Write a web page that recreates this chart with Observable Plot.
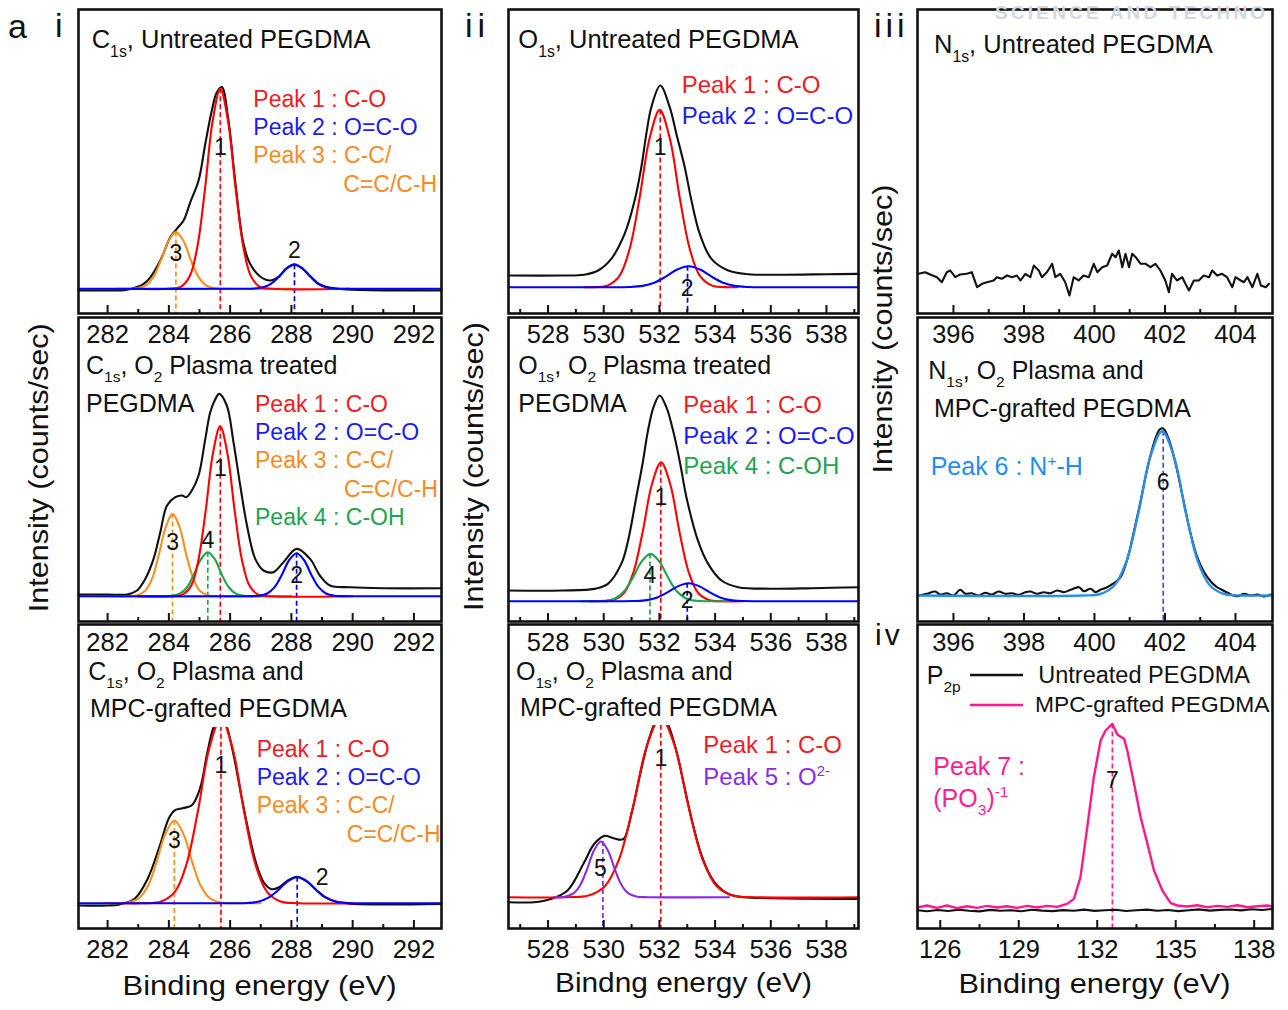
<!DOCTYPE html>
<html><head><meta charset="utf-8">
<script src="https://cdn.jsdelivr.net/npm/d3@7"></script>
<script src="https://cdn.jsdelivr.net/npm/@observablehq/plot@0.6"></script>
<style>
body{margin:0;background:#fff;}
#wrap{position:relative;width:1288px;height:1010px;overflow:hidden;background:#fff;}
</style></head><body><div id="wrap"></div>
<script>
// ================= DATA (binding energy eV, relative intensity) =================
// ---- column i : C1s ----
const c1sRange = [281.05, 292.9];
const c1sMajorTicks = [282, 284, 286, 288, 290, 292];
const c1sMinorTicks = [283, 285, 287, 289, 291];

const c1sUntreatedEnvelope = [[281.05,-1.7],[282,-1.7],[282.6,-1.2],[282.96,1.7],[283.2,5.5],[283.4,11.7],[283.72,28.3],[284.05,51.7],[284.26,60],[284.48,68.3],[284.7,86.7],[284.97,108.3],[285.19,145],[285.4,178],[285.56,196],[285.73,201.7],[285.93,172],[286.18,104],[286.43,46],[286.65,25],[286.98,12.3],[287.3,8.3],[287.6,12.5],[287.84,20.5],[288.1,24.5],[288.36,20.5],[288.62,12.5],[288.87,5.5],[289.13,2],[289.5,0],[290.2,-1.2],[292.9,-1.7]];
const c1sUntreatedPeak1 = [[282.9,0],[283.98,0],[284.38,1.8],[284.68,12.5],[284.93,42],[285.18,100],[285.43,168],[285.68,200],[285.93,168],[286.18,100],[286.43,42],[286.68,12.5],[286.98,1.8],[287.38,0],[289.9,0]];
const c1sUntreatedPeak2 = [[281.05,0],[286.35,0],[286.76,0.2],[287.07,1.5],[287.33,5],[287.59,12],[287.84,20.2],[288.1,24],[288.36,20.2],[288.62,12],[288.87,5],[289.13,1.5],[289.44,0.2],[289.85,0],[292.9,0]];
const c1sUntreatedPeak3 = [[282.3,0],[282.56,0],[282.96,0.5],[283.25,3.5],[283.5,11.9],[283.74,28.4],[283.99,47.7],[284.23,56.7],[284.48,47.7],[284.72,28.4],[284.97,11.9],[285.21,3.5],[285.5,0.5],[285.9,0],[288,0]];
const c1sUntreatedCentres = [285.68, 288.1, 284.23];
const c1sUntreatedHeights = [200, 24, 56.7];

const c1sPlasmaEnvelope = [[281.05,1.7],[282,1.7],[282.64,1.7],[282.96,5.7],[283.23,17.3],[283.5,37.3],[283.72,64],[283.94,90.7],[284.21,99],[284.43,100.7],[284.57,99],[284.75,105.7],[284.97,120.7],[285.19,157.3],[285.35,184],[285.5,196],[285.64,202.3],[285.89,190.7],[286.11,154],[286.33,110.7],[286.55,70.7],[286.82,37.3],[287.09,25.7],[287.41,24],[287.74,34],[288.17,47.3],[288.61,37.3],[288.93,20.7],[289.26,10.7],[289.91,9],[291,8],[292.9,8]];
const c1sPlasmaPeak1 = [[283,0],[284.06,0],[284.44,1.6],[284.73,10.6],[284.96,35.7],[285.2,85],[285.44,143],[285.675,170],[285.91,143],[286.15,85],[286.39,35.7],[286.63,10.6],[286.91,1.6],[287.29,0],[290,0]];
const c1sPlasmaPeak2 = [[281.05,0],[286.54,0],[286.92,0.4],[287.21,2.7],[287.45,9],[287.69,21.5],[287.93,36.2],[288.17,43],[288.41,36.2],[288.65,21.5],[288.89,9],[289.13,2.7],[289.42,0.4],[289.8,0],[292.9,0]];
const c1sPlasmaPeak3 = [[282.2,0],[282.59,0],[282.95,0.8],[283.22,5.1],[283.45,17.3],[283.67,41.2],[283.9,69.2],[284.12,82.3],[284.35,69.2],[284.57,41.2],[284.8,17.3],[285.02,5.1],[285.29,0.8],[285.65,0],[287.5,0]];
const c1sPlasmaPeak4 = [[283,0],[283.74,0],[284.1,0.4],[284.37,2.75],[284.6,9.2],[284.82,22],[285.05,37],[285.27,44],[285.5,37],[285.72,22],[285.95,9.2],[286.17,2.75],[286.44,0.4],[286.8,0],[288,0]];
const c1sPlasmaCentres = [285.68, 288.17, 284.12, 285.27];
const c1sPlasmaHeights = [170, 43, 82.3, 44];

const c1sGraftEnvelope = [[281.05,-2.3],[282,-2.3],[282.4,-1.2],[282.9,5],[283.3,24],[283.7,57],[284,85],[284.2,93],[284.45,95],[284.75,98],[285.02,115],[285.25,150],[285.45,175],[285.6,183],[285.7,186],[285.85,180],[286.1,150],[286.35,110],[286.6,72],[286.85,40],[287.1,20.7],[287.35,14],[287.6,16],[287.9,23],[288.19,26.5],[288.5,22],[288.8,13.5],[289.1,6],[289.45,1.6],[289.9,-0.5],[292.9,-0.7]];
const c1sGraftPeak1 = [[282.5,0],[283.15,0],[283.75,1.7],[284.2,11.6],[284.575,38.9],[284.95,92.5],[285.325,155.6],[285.7,185],[286.075,155.6],[286.45,92.5],[286.825,38.9],[287.2,11.6],[287.65,1.7],[288.25,0],[290,0]];
const c1sGraftPeak2 = [[281.05,0],[286.07,0],[286.57,0.24],[286.94,1.6],[287.25,5.5],[287.57,13],[287.88,21.9],[288.19,26],[288.5,21.9],[288.82,13],[289.13,5.5],[289.44,1.6],[289.82,0.24],[290.32,0],[292.9,0]];
const c1sGraftPeak3 = [[281.9,0],[282.225,0],[282.685,0.8],[283.03,5.2],[283.32,17.4],[283.6,41.4],[283.89,69.6],[284.18,82.7],[284.47,69.6],[284.76,41.4],[285.04,17.4],[285.33,5.2],[285.68,0.8],[286.14,0],[287,0]];
const c1sGraftCentres = [285.7, 288.19, 284.18];
const c1sGraftHeights = [185, 26, 82.7];

// ---- column ii : O1s ----
const o1sRange = [526.58, 539.15];
const o1sMajorTicks = [528, 530, 532, 534, 536, 538];
const o1sMinorTicks = [527, 529, 531, 533, 535, 537, 539];

const o1sUntreatedEnvelope = [[526.58,11.7],[528.5,11.7],[529.3,12.5],[529.8,16.7],[530.27,28.3],[530.75,53.3],[531.11,86.7],[531.35,120],[531.53,153.3],[531.71,180],[532.03,201.7],[532.37,180],[532.61,153.3],[532.91,120],[533.15,86.7],[533.45,53.3],[533.87,28.3],[534.47,16.7],[535.2,13],[536.5,12.5],[538,13],[539.15,13.3]];
const o1sUntreatedPeak1 = [[529.3,0],[529.545,0],[530.125,1.6],[530.56,11.1],[530.92,37.2],[531.285,88.7],[531.65,149.1],[532.01,177.3],[532.37,149.1],[532.735,88.7],[533.1,37.2],[533.46,11.1],[533.895,1.6],[534.475,0],[534.8,0]];
const o1sUntreatedPeak2 = [[526.58,0],[530.245,0],[530.905,0.2],[531.4,1.3],[531.81,4.4],[532.225,10.5],[532.64,17.7],[533.05,21],[533.46,17.7],[533.875,10.5],[534.29,4.4],[534.7,1.3],[535.195,0.2],[535.855,0],[539.15,0]];
const o1sUntreatedCentres = [532.03, 533.01];
const o1sUntreatedHeights = [177.3, 21];

const o1sPlasmaEnvelope = [[526.58,10.7],[528.5,10.7],[529.67,12.3],[530.15,17.3],[530.63,37.3],[530.87,60],[531.17,104],[531.41,140],[531.59,170.7],[531.8,195],[532.01,205.7],[532.25,194],[532.49,170.7],[532.73,140],[532.97,104],[533.39,60],[533.75,37.3],[534.23,20.7],[534.83,14],[536,12.5],[537.5,13],[539.15,14]];
const o1sPlasmaPeak1 = [[529.5,0],[529.816,0],[530.344,1.3],[530.74,8.7],[531.07,29.2],[531.4,69.5],[531.73,116.9],[532.06,139],[532.39,116.9],[532.72,69.5],[533.05,29.2],[533.38,8.7],[533.776,1.3],[534.304,0],[535,0]];
const o1sPlasmaPeak2 = [[526.58,0],[530.5,0],[531.1,0.17],[531.55,1.1],[531.925,3.8],[532.3,9],[532.675,15.1],[533.05,18],[533.425,15.1],[533.8,9],[534.175,3.8],[534.55,1.1],[535,0.17],[535.6,0],[539.15,0]];
const o1sPlasmaPeak4 = [[529.2,0],[529.538,0],[530.042,0.4],[530.42,3],[530.735,9.9],[531.05,23.7],[531.365,39.8],[531.68,47.3],[531.995,39.8],[532.31,23.7],[532.625,9.9],[532.94,3],[533.318,0.4],[533.822,0],[534.5,0]];
const o1sPlasmaCentres = [532.05, 533.0, 531.66];
const o1sPlasmaHeights = [139, 18, 47.3];

const o1sGraftEnvelope = [[526.58,-5],[527.5,-5],[528.1,-1.7],[528.7,6.7],[529.3,35],[529.65,53],[530.03,61.3],[530.35,59],[530.7,58],[531,84],[531.3,122],[531.6,156],[531.85,175],[532.05,181],[532.3,173],[532.6,147],[532.9,110],[533.2,73],[533.5,43],[533.8,23],[534.1,11],[534.5,3],[535,0],[536,-1],[539.15,-1.7]];
const o1sGraftPeak1 = [[526.58,0],[528.65,0],[529.45,1.7],[530.05,11.3],[530.55,37.8],[531.05,90],[531.55,151.4],[532.05,180],[532.55,151.4],[533.05,90],[533.55,37.8],[534.05,11.3],[534.65,1.7],[535.45,0],[539.15,0]];
const o1sGraftPeak5 = [[528.2,0],[528.6,0.5],[528.9,3.5],[529.15,11.7],[529.4,27.9],[529.65,46.8],[529.9,55.7],[530.15,46.8],[530.4,27.9],[530.65,11.7],[530.9,3.5],[531.2,0.5],[531.6,0],[534.5,0]];
const o1sGraftCentres = [532.05, 529.97];
const o1sGraftHeights = [180, 55.7];

// ---- column iii : N1s and P2p ----
const n1sRange = [394.98, 405.05];
const n1sMajorTicks = [396, 398, 400, 402, 404];
const n1sMinorTicks = [397, 399, 401, 403];

const n1sUntreatedSpectrum = [[395.01,41.7],[395.2,43.3],[395.34,41],[395.53,38.3],[395.67,33.3],[395.81,43.3],[395.91,45],[396.05,38.3],[396.19,41],[396.38,41.7],[396.52,43.3],[396.67,28.3],[396.81,31.7],[396.95,33.3],[397.14,35],[397.23,38.3],[397.37,36.7],[397.52,40],[397.66,38.3],[397.8,40],[397.9,35],[398.04,41.7],[398.18,38.3],[398.28,50],[398.42,45],[398.51,38.3],[398.65,43.3],[398.8,51.7],[398.89,38.3],[399.03,41.7],[399.17,33.3],[399.29,20],[399.41,38.3],[399.55,35],[399.69,40],[399.84,38.3],[399.98,51.7],[400.08,43.3],[400.22,48.3],[400.36,50],[400.5,61.7],[400.6,58.3],[400.69,65],[400.79,48.3],[400.88,61.7],[400.98,48.3],[401.07,61.7],[401.17,58.3],[401.31,51.7],[401.45,51.7],[401.59,48.3],[401.73,51.7],[401.87,45],[402.01,35],[402.11,23.3],[402.2,41.7],[402.34,35],[402.49,38.3],[402.58,31.7],[402.68,25],[402.82,35],[402.96,35],[403.1,40],[403.25,38.3],[403.34,45],[403.48,40],[403.62,41.7],[403.76,38.3],[403.91,28.3],[404,38.3],[404.15,35],[404.24,33.3],[404.34,38.3],[404.48,28.3],[404.62,41.7],[404.72,30],[404.86,28.3],[404.95,31.7]];

const n1sGraftSpectrum = [[395.01,0],[395.25,1.7],[395.48,4],[395.62,1],[395.81,2.3],[396,0],[396.19,5.7],[396.34,1.7],[396.52,2.3],[396.71,0],[396.9,2.7],[397.09,1],[397.28,4],[397.47,1.7],[397.66,2.3],[397.85,0.7],[398.04,3.3],[398.18,4],[398.37,1.7],[398.56,3.3],[398.75,2.3],[398.94,5],[399.13,3.3],[399.32,5.7],[399.56,8.3],[399.7,4.3],[399.89,6.7],[400.03,3.3],[400.17,5.7],[400.36,8.3],[400.55,12.3],[400.74,18.3],[400.93,36],[401.1,61],[401.3,93],[401.5,127],[401.7,154],[401.85,166],[401.95,167],[402.1,157],[402.3,132],[402.5,99],[402.7,66],[402.9,40],[403.1,24],[403.3,14],[403.45,9],[403.6,6],[403.87,1],[404.06,-0.7],[404.25,1.7],[404.43,0],[404.62,1],[404.81,-1],[405,1]];
const n1sGraftPeak6 = [[394.98,0],[399.625,0],[400.165,1.5],[400.57,10.3],[400.91,34.5],[401.245,82.2],[401.58,138.2],[401.92,164.3],[402.26,138.2],[402.595,82.2],[402.93,34.5],[403.27,10.3],[403.675,1.5],[404.215,0],[405.05,0]];
const n1sGraftCentres = [401.95];
const n1sGraftHeights = [164.3];

const p2pRange = [125.13, 138.7];
const p2pMajorTicks = [126, 129, 132, 135, 138];
const p2pMinorTicks = [127.5, 130.5, 133.5, 136.5];
const p2pUntreated = [[125.13,-3],[125.5,-4],[125.9,-2.8],[126.3,-3.8],[126.7,-2.5],[127.1,-3.5],[127.5,-4.2],[127.9,-2.7],[128.3,-3.6],[128.7,-3],[129.1,-4],[129.5,-2.6],[129.9,-3.4],[130.3,-3.9],[130.7,-2.9],[131.1,-3.5],[131.5,-2.4],[131.9,-3.7],[132.3,-3],[132.7,-2.6],[133.1,-3.8],[133.5,-3.1],[133.9,-2.4],[134.3,-3.5],[134.7,-2.8],[135.1,-3.9],[135.5,-3],[135.9,-2.2],[136.3,-3.4],[136.7,-2.7],[137.1,-2.3],[137.5,-3.2],[137.9,-2],[138.3,-2.8],[138.7,-1.8]];
const p2pGrafted = [[125.13,0.5],[125.17,0],[125.49,1.7],[125.87,-0.7],[126.26,1.7],[126.64,-1],[127.02,1],[127.41,-0.7],[127.79,1.3],[128.17,-0.3],[128.55,1],[128.94,-0.7],[129.32,1.3],[129.71,-0.3],[130.09,1.3],[130.47,0.3],[130.85,3.3],[131.11,8.3],[131.36,30],[131.62,80],[131.87,130],[132.13,166.7],[132.32,176.7],[132.58,183.3],[132.77,172.7],[133.03,168.3],[133.15,156.7],[133.41,123.3],[133.66,90],[133.92,63.3],[134.17,36.7],[134.49,16.7],[134.81,4],[135.06,1.7],[135.45,0.7],[135.83,2],[136.21,0],[136.6,1.3],[136.98,0.3],[137.36,2],[137.75,0],[138.13,1],[138.51,1.7],[138.7,0.5]];
const p2pCentres = [132.58];
const p2pHeights = [183.3];

// ================= STYLE =================
const FONT = '"Liberation Sans", Arial, Helvetica, sans-serif';
const INK = "#111";
const RED = "#ff0000", BLUE = "#0000ff", ORANGE = "#f7901e", GREEN = "#1aa64b", PURPLE = "#8a2be2", PINK = "#ff1a8c", SKY = "#2a8fe6", DASH6 = "#4b4bdb";
const T_RED = "#ee1c24", T_BLUE = "#1c1cee", T_ORANGE = "#f68b1f", T_GREEN = "#1ea34f", T_PURPLE = "#8b2be6", T_PINK = "#ff1f8f", T_SKY = "#1e8ff0";

const wrap = document.getElementById("wrap");

function panel(cfg) {
  const fw = cfg.frame[1] - cfg.frame[0], fh = cfg.frame[3] - cfg.frame[2];
  const M = {l: 2, r: 2, t: 2, b: 46};
  const marks = [];
  cfg.dashes.forEach(d => marks.push(Plot.ruleX([d.x], {y1: d.top, y2: cfg.yDomain[0], stroke: d.color, strokeWidth: 1.7, strokeDasharray: "5,3"})));
  cfg.curves.forEach(c => marks.push(Plot.line(c.data, {x: d => d[0], y: d => d[1], stroke: c.color, strokeWidth: c.width || 2.1, curve: c.curve || "catmull-rom"})));
  marks.push(Plot.text(cfg.labels, {x: "x", y: "y", text: "t", fontSize: 23, fill: INK}));
  marks.push(Plot.ruleX(cfg.major, {insetTop: fh - 8, stroke: INK, strokeWidth: 2}));
  marks.push(Plot.ruleX(cfg.minor, {insetTop: fh - 4, stroke: INK, strokeWidth: 2}));
  marks.push(Plot.axisX(cfg.major, {tickSize: 0, tickPadding: 11.5, fontSize: 25.5, fill: INK, label: null, tickFormat: d => String(d)}));
  marks.push(Plot.frame({stroke: INK, strokeWidth: 2.6}));
  const svg = Plot.plot({
    width: fw + M.l + M.r, height: fh + M.t + M.b,
    marginLeft: M.l, marginRight: M.r, marginTop: M.t, marginBottom: M.b,
    x: {domain: cfg.xDomain}, y: {domain: cfg.yDomain, axis: null},
    style: {background: "transparent", overflow: "visible", fontFamily: FONT, color: INK},
    marks
  });
  svg.style.position = "absolute";
  svg.style.left = (cfg.frame[0] - M.l) + "px";
  svg.style.top = (cfg.frame[2] - M.t) + "px";
  wrap.appendChild(svg);
}

const COLI = [78, 441], COLII = [508, 858], COLIII = [917, 1272];
const R1 = [9, 313], R2 = [317, 621], R3 = [624, 928];
const F = (c, r) => [c[0], c[1], r[0], r[1]];
const dashesOf = (centres, heights, colors) => centres.map((x, i) => ({x, top: heights[i], color: colors[i]}));

// Column i
panel({xDomain: c1sRange, yDomain: [-24.7, 279.3], frame: F(COLI, R1), major: c1sMajorTicks, minor: c1sMinorTicks,
  dashes: dashesOf(c1sUntreatedCentres, c1sUntreatedHeights, [RED, BLUE, ORANGE]),
  curves: [{data: c1sUntreatedEnvelope, color: INK}, {data: c1sUntreatedPeak3, color: ORANGE}, {data: c1sUntreatedPeak1, color: RED}, {data: c1sUntreatedPeak2, color: BLUE}],
  labels: [{x: 285.68, y: 141, t: "1"}, {x: 288.1, y: 38.3, t: "2"}, {x: 284.23, y: 35, t: "3"}]});
panel({xDomain: c1sRange, yDomain: [-25.3, 278.7], frame: F(COLI, R2), major: c1sMajorTicks, minor: c1sMinorTicks,
  dashes: dashesOf(c1sPlasmaCentres, c1sPlasmaHeights, [RED, BLUE, ORANGE, GREEN]),
  curves: [{data: c1sPlasmaEnvelope, color: INK}, {data: c1sPlasmaPeak3, color: ORANGE}, {data: c1sPlasmaPeak4, color: GREEN}, {data: c1sPlasmaPeak1, color: RED}, {data: c1sPlasmaPeak2, color: BLUE}],
  labels: [{x: 285.68, y: 127.4, t: "1"}, {x: 288.17, y: 20.7, t: "2"}, {x: 284.12, y: 54, t: "3"}, {x: 285.27, y: 55.7, t: "4"}]});
panel({xDomain: c1sRange, yDomain: [-25.3, 278.7], frame: F(COLI, R3), major: c1sMajorTicks, minor: c1sMinorTicks,
  dashes: dashesOf(c1sGraftCentres, c1sGraftHeights, [RED, BLUE, ORANGE]),
  curves: [{data: c1sGraftEnvelope, color: INK}, {data: c1sGraftPeak3, color: ORANGE}, {data: c1sGraftPeak1, color: RED}, {data: c1sGraftPeak2, color: BLUE}],
  labels: [{x: 285.7, y: 137.7, t: "1"}, {x: 289.0, y: 26, t: "2"}, {x: 284.18, y: 62.7, t: "3"}]});

// Column ii
panel({xDomain: o1sRange, yDomain: [-26.3, 277.7], frame: F(COLII, R1), major: o1sMajorTicks, minor: o1sMinorTicks,
  dashes: dashesOf(o1sUntreatedCentres, o1sUntreatedHeights, [RED, BLUE]),
  curves: [{data: o1sUntreatedEnvelope, color: INK}, {data: o1sUntreatedPeak1, color: RED}, {data: o1sUntreatedPeak2, color: BLUE}],
  labels: [{x: 532.03, y: 140, t: "1"}, {x: 533.0, y: -1.6, t: "2"}]});
panel({xDomain: o1sRange, yDomain: [-20.3, 283.7], frame: F(COLII, R2), major: o1sMajorTicks, minor: o1sMinorTicks,
  dashes: dashesOf(o1sPlasmaCentres, o1sPlasmaHeights, [RED, BLUE, GREEN]),
  curves: [{data: o1sPlasmaEnvelope, color: INK}, {data: o1sPlasmaPeak1, color: RED}, {data: o1sPlasmaPeak4, color: GREEN}, {data: o1sPlasmaPeak2, color: BLUE}],
  labels: [{x: 532.05, y: 104, t: "1"}, {x: 531.66, y: 25.7, t: "4"}, {x: 533.0, y: 1, t: "2"}]});
panel({xDomain: o1sRange, yDomain: [-31.3, 272.7], frame: F(COLII, R3), major: o1sMajorTicks, minor: o1sMinorTicks,
  dashes: dashesOf(o1sGraftCentres, o1sGraftHeights, [RED, PURPLE]),
  curves: [{data: o1sGraftEnvelope, color: INK}, {data: o1sGraftPeak1, color: RED}, {data: o1sGraftPeak5, color: PURPLE}],
  labels: [{x: 532.05, y: 138.3, t: "1"}, {x: 529.88, y: 28.3, t: "5"}]});

// Column iii
panel({xDomain: n1sRange, yDomain: [2, 306], frame: F(COLIII, R1), major: n1sMajorTicks, minor: n1sMinorTicks,
  dashes: [], curves: [{data: n1sUntreatedSpectrum, color: INK, curve: "linear"}], labels: []});
panel({xDomain: n1sRange, yDomain: [-26, 278], frame: F(COLIII, R2), major: n1sMajorTicks, minor: n1sMinorTicks,
  dashes: dashesOf(n1sGraftCentres, n1sGraftHeights, [DASH6]),
  curves: [{data: n1sGraftSpectrum, color: INK}, {data: n1sGraftPeak6, color: SKY, width: 2.4}],
  labels: [{x: 401.95, y: 113.3, t: "6"}]});
panel({xDomain: p2pRange, yDomain: [-21.3, 282.7], frame: F(COLIII, R3), major: p2pMajorTicks, minor: p2pMinorTicks,
  dashes: dashesOf(p2pCentres, p2pHeights, [PINK]),
  curves: [{data: p2pUntreated, color: INK, curve: "linear"}, {data: p2pGrafted, color: PINK, curve: "linear", width: 2.4}],
  labels: [{x: 132.58, y: 126.7, t: "7"}]});

// ================= TEXT OVERLAY =================
const ov = d3.select(wrap).append("svg").attr("width", 1288).attr("height", 1010)
  .style("position", "absolute").style("left", "0px").style("top", "0px")
  .style("font-family", FONT).style("white-space", "pre").style("pointer-events", "none");

function rich(x, y, parts, size, fill, extra) {
  const t = ov.append("text").attr("x", x).attr("y", y).attr("fill", fill).attr("font-size", size);
  if (extra) extra(t);
  parts.forEach(([s, mode]) => {
    const ts = t.append("tspan").text(s);
    if (mode === "sub") ts.attr("y", y + size * 0.33).attr("font-size", size * 0.62);
    else if (mode === "sup") ts.attr("y", y - size * 0.38).attr("font-size", size * 0.62);
    else ts.attr("y", y);
  });
  return t;
}
const box = (x, y, w, h) => ov.append("rect").attr("x", x).attr("y", y).attr("width", w).attr("height", h).attr("fill", "#fff");

// white label boxes covering peak tops
box(84, 692, 272, 35);
box(513, 690, 290, 35);
box(926, 394, 289, 28);

// watermark (faint, at the top edge)
ov.append("text").attr("x", 995).attr("y", 19).attr("font-size", 19).attr("font-weight", "bold")
  .attr("fill", "#d3d7df").attr("letter-spacing", 3.2).text("SCIENCE AND TECHNO");

// panel numerals
rich(8, 38, [["a"]], 34, INK);
rich(55, 37, [["i"]], 34, INK);
rich(465, 37, [["ii"]], 34, INK, t => t.attr("letter-spacing", 5));
rich(874, 37, [["iii"]], 34, INK, t => t.attr("letter-spacing", 4));
rich(875, 645, [["iv"]], 30, INK, t => t.attr("letter-spacing", 3));

// titles
const TS1 = 25.5, TS = 25;
rich(91.7, 48.3, [["C"], ["1s", "sub"], [", Untreated PEGDMA"]], TS1, INK);
rich(86, 374, [["C"], ["1s", "sub"], [", O"], ["2", "sub"], [" Plasma treated"]], TS, INK);
rich(86, 411.7, [["PEGDMA"]], TS, INK);
rich(88.3, 680, [["C"], ["1s", "sub"], [", O"], ["2", "sub"], [" Plasma and"]], TS, INK);
rich(90, 717, [["MPC-grafted PEGDMA"]], TS, INK);
rich(518.3, 48.3, [["O"], ["1s", "sub"], [", Untreated PEGDMA"]], TS1, INK);
rich(518.3, 374, [["O"], ["1s", "sub"], [", O"], ["2", "sub"], ["  Plasma treated"]], TS, INK);
rich(518.3, 411.7, [["PEGDMA"]], TS, INK);
rich(516, 680, [["O"], ["1s", "sub"], [", O"], ["2", "sub"], ["  Plasma and"]], TS, INK);
rich(520, 716, [["MPC-grafted PEGDMA"]], TS, INK);
rich(934, 53.3, [["N"], ["1s", "sub"], [", Untreated PEGDMA"]], TS1, INK);
rich(928.3, 379, [["N"], ["1s", "sub"], [", O"], ["2", "sub"], [" Plasma and"]], TS, INK);
rich(934, 417, [["MPC-grafted PEGDMA"]], TS, INK);
rich(926.7, 684, [["P"], ["2p", "sub"]], TS, INK);

// peak legends
function legend(x, base, step, items, size) {
  items.forEach((it, i) => rich(it.dx ? x + it.dx : x, base + step * i, it.parts, size, it.fill));
}
const LSI = 23, LSII = 24;
legend(253.3, 107, 28.2, [
  {parts: [["Peak 1 : C-O"]], fill: T_RED}, {parts: [["Peak 2 : O=C-O"]], fill: T_BLUE},
  {parts: [["Peak 3 : C-C/"]], fill: T_ORANGE}, {parts: [["C=C/C-H"]], fill: T_ORANGE, dx: 90}], LSI);
legend(255, 412, 28.2, [
  {parts: [["Peak 1 : C-O"]], fill: T_RED}, {parts: [["Peak 2 : O=C-O"]], fill: T_BLUE},
  {parts: [["Peak 3 : C-C/"]], fill: T_ORANGE}, {parts: [["C=C/C-H"]], fill: T_ORANGE, dx: 89},
  {parts: [["Peak 4 : C-OH"]], fill: T_GREEN}], LSI);
legend(256.7, 756.7, 28.3, [
  {parts: [["Peak 1 : C-O"]], fill: T_RED}, {parts: [["Peak 2 : O=C-O"]], fill: T_BLUE},
  {parts: [["Peak 3 : C-C/"]], fill: T_ORANGE}, {parts: [["C=C/C-H"]], fill: T_ORANGE, dx: 90}], LSI);
legend(681.7, 93.3, 30.7, [
  {parts: [["Peak 1 : C-O"]], fill: T_RED}, {parts: [["Peak 2 : O=C-O"]], fill: T_BLUE}], LSII);
legend(683.3, 413, 30.7, [
  {parts: [["Peak 1 : C-O"]], fill: T_RED}, {parts: [["Peak 2 : O=C-O"]], fill: T_BLUE},
  {parts: [["Peak 4 : C-OH"]], fill: T_GREEN}], LSII);
legend(703.3, 752.7, 32.3, [
  {parts: [["Peak 1 : C-O"]], fill: T_RED}, {parts: [["Peak 5 : O"], ["2-", "sup"]], fill: T_PURPLE}], LSII);
rich(930.7, 475, [["Peak 6 : N"], ["+", "sup"], ["-H"]], 25, T_SKY);
rich(933.3, 775, [["Peak 7 :"]], 25, T_PINK);
rich(933.3, 806.7, [["(PO"], ["3", "sub"], [")"], ["-1", "sup"]], 25, T_PINK);

// P2p series key
ov.append("line").attr("x1", 970).attr("x2", 1023).attr("y1", 675).attr("y2", 675).attr("stroke", INK).attr("stroke-width", 2.4);
ov.append("line").attr("x1", 970).attr("x2", 1023).attr("y1", 705).attr("y2", 705).attr("stroke", PINK).attr("stroke-width", 2.4);
rich(1038.3, 683.3, [["Untreated PEGDMA"]], 23.5, INK);
rich(1035, 711.7, [["MPC-grafted PEGDMA"]], 22.8, INK);

// axis titles
function ylab(cx, cy) {
  ov.append("text").attr("transform", `translate(${cx},${cy}) rotate(-90)`).attr("text-anchor", "middle")
    .attr("dominant-baseline", "central").attr("font-size", 28).attr("fill", INK)
    .attr("textLength", 289).attr("lengthAdjust", "spacingAndGlyphs").text("Intensity (counts/sec)");
}
ylab(38.5, 467.7); ylab(473, 466.5); ylab(882, 329);
function xlab(cx, base, text, len) {
  ov.append("text").attr("x", cx).attr("y", base).attr("text-anchor", "middle").attr("font-size", 28).attr("fill", INK)
    .attr("textLength", len).attr("lengthAdjust", "spacingAndGlyphs").text(text);
}
xlab(259.5, 995, "Binding energy (eV)", 274);
xlab(683.5, 992, "Bindng energy (eV)", 257);
xlab(1094.5, 993.3, "Binding energy (eV)", 272);
</script>
</body></html>
